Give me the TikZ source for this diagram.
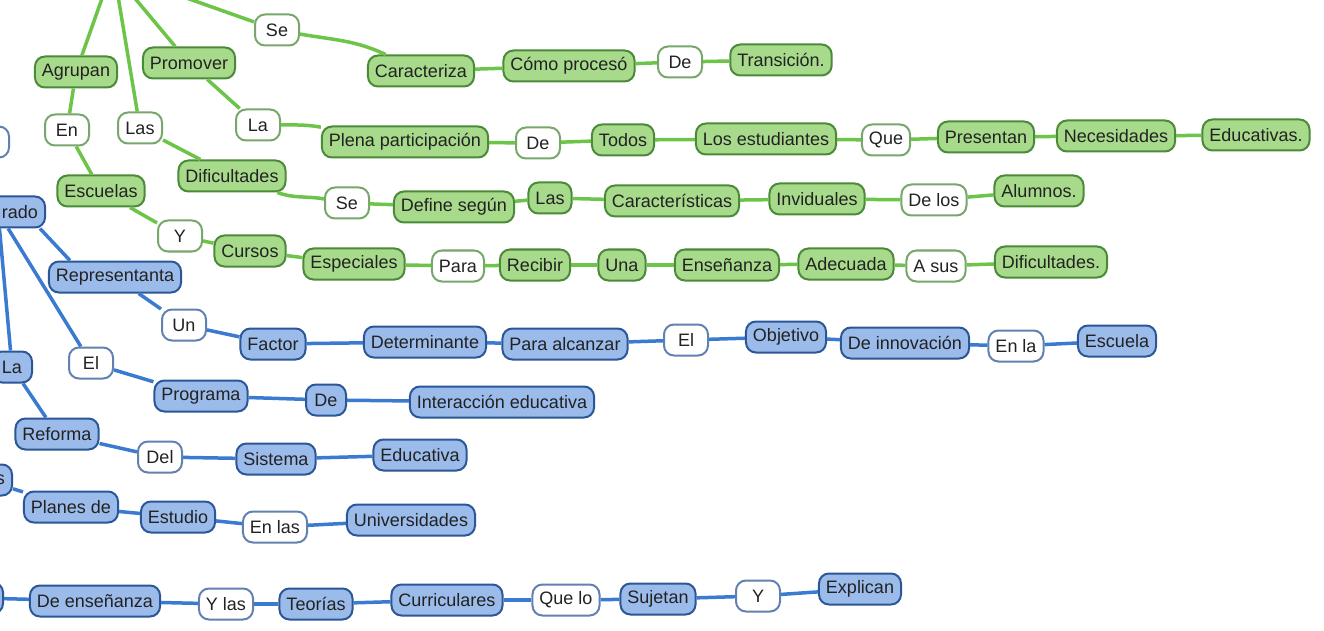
\documentclass[tikz,border=0pt]{standalone}
\usepackage{fontspec}
\setmainfont{Liberation Sans}
\usepackage{tikz}
\definecolor{gfill}{HTML}{A8DA8C}
\definecolor{gdraw}{HTML}{4A8A38}
\definecolor{gwire}{HTML}{6CC449}
\definecolor{bfill}{HTML}{9BBBEB}
\definecolor{bdraw}{HTML}{2C5796}
\definecolor{bwire}{HTML}{3A7AD0}
\definecolor{ink}{HTML}{222222}
\tikzstyle{box} = [rounded corners=5pt, minimum height=15.5pt, minimum width=20pt, inner xsep=3.5pt, inner ysep=2pt, line width=1pt, text=ink, font=\fontsize{9}{10}\selectfont]
\tikzstyle{gbox} = [box, draw=gdraw, fill=gfill]
\tikzstyle{gword} = [box, draw=gdraw!75, fill=white, minimum width=22pt]
\tikzstyle{bbox} = [box, draw=bdraw, fill=bfill]
\tikzstyle{bword} = [box, draw=bdraw!75, fill=white, minimum width=22pt]
\tikzstyle{cut} = [anchor=east, align=right]
\tikzstyle{gline} = [gwire, line width=1.75pt]
\tikzstyle{bline} = [bwire, line width=1.75pt]

\begin{document}
\begin{tikzpicture}[x=0.5pt, y=-0.5pt]
        \useasboundingbox [fill=white] (0,0) rectangle (1324,631);
        \clip (0,0) rectangle (1324,631);

        % green branch
        \coordinate (gtop1) at (105,-10);
        \coordinate (gtop2) at (117,-10);
        \coordinate (gtop3) at (128,-10);
        \coordinate (gtop4) at (178,-5);
        \node (agr) [gbox] at (76,72) {Agrupan};
        \node (en) [gword] at (67,130) {En};
        \node (las) [gword] at (140,128) {Las};
        \node (prom) [gbox] at (189,63) {Promover};
        \node (se) [gword] at (277,30) {Se};
        \node (la) [gword] at (258,125) {La};
        \node (esc) [gbox] at (101,191) {Escuelas};
        \node (dif) [gbox] at (232,176) {Dificultades};
        \node (y) [gword] at (180,236) {Y};
        \node (cur) [gbox] at (250,251) {Cursos};
        \node (car) [gbox] at (421,71) {Caracteriza};
        \node (como) [gbox] at (569,66) {Cómo procesó};
        \node (de) [gword] at (680,62) {De};
        \node (tra) [gbox] at (781,60) {Transición.};
        \node (ple) [gbox] at (405,142) {Plena participación};
        \node (de2) [gword] at (538,143) {De};
        \node (tod) [gbox] at (623,140) {Todos};
        \node (est) [gbox] at (766,139) {Los estudiantes};
        \node (que) [gword] at (886,140) {Que};
        \node (pre) [gbox] at (986,137) {Presentan};
        \node (nec) [gbox] at (1116,136) {Necesidades};
        \node (edu) [gbox] at (1256,135) {Educativas.};
        \node (se2) [gword] at (347,203) {Se};
        \node (def) [gbox] at (454,207) {Define según};
        \node (las2) [gbox] at (550,198) {Las};
        \node (cara) [gbox] at (672,201) {Características};
        \node (inv) [gbox] at (817,199) {Inviduales};
        \node (delos) [gword] at (934,200) {De los};
        \node (alu) [gbox] at (1039,191) {Alumnos.};
        \node (esp) [gbox] at (354,264) {Especiales};
        \node (para) [gword] at (458,266) {Para};
        \node (rec) [gbox] at (535,265) {Recibir};
        \node (una) [gbox] at (622,265) {Una};
        \node (ens) [gbox] at (727,265) {Enseñanza};
        \node (ade) [gbox] at (846,264) {Adecuada};
        \node (asus) [gword] at (936,266) {A sus};
        \node (dif2) [gbox] at (1051,262) {Dificultades.};

        \draw [gline] (gtop1) -- (agr);
        \draw [gline] (gtop2) -- (las);
        \draw [gline] (gtop3) -- (prom);
        \draw [gline] (gtop4) -- (se);
        \draw [gline] (agr) -- (en);
        \draw [gline] (en) -- (esc);
        \draw [gline] (esc) -- (y);
        \draw [gline] (y) -- (cur);
        \draw [gline] (cur) -- (esp);
        \draw [gline] (esp) -- (para);
        \draw [gline] (para) -- (rec);
        \draw [gline] (rec) -- (una);
        \draw [gline] (una) -- (ens);
        \draw [gline] (ens) -- (ade);
        \draw [gline] (ade) -- (asus);
        \draw [gline] (asus) -- (dif2);
        \draw [gline] (las) -- (dif);
        \draw [gline] (dif) to[out=-20,in=170] (se2);
        \draw [gline] (se2) -- (def);
        \draw [gline] (def) -- (las2);
        \draw [gline] (las2) -- (cara);
        \draw [gline] (cara) -- (inv);
        \draw [gline] (inv) -- (delos);
        \draw [gline] (delos) -- (alu);
        \draw [gline] (prom) -- (la);
        \draw [gline] (la) to[out=0,in=170] (ple);
        \draw [gline] (ple) -- (de2);
        \draw [gline] (de2) -- (tod);
        \draw [gline] (tod) -- (est);
        \draw [gline] (est) -- (que);
        \draw [gline] (que) -- (pre);
        \draw [gline] (pre) -- (nec);
        \draw [gline] (nec) -- (edu);
        \draw [gline] (se) to[out=-10,in=155] (car);
        \draw [gline] (car) -- (como);
        \draw [gline] (como) -- (de);
        \draw [gline] (de) -- (tra);

        % blue branch
        \node (rado) [bbox, cut, text width=40pt] at (46,212) {rado};
        \node (blank) [bword, cut, minimum width=25pt] at (10,142) {};
        \node (la3) [bbox] at (12,367) {La};
        \node (ref) [bbox] at (57,434) {Reforma};
        \node (s) [bbox, cut, text width=20pt] at (13,480) {s};
        \node (pla) [bbox] at (71,507) {Planes de};
        \node (low) [bbox, cut, minimum width=25pt] at (4,598) {};
        \node (den) [bbox] at (95,601) {De enseñanza};
        \node (rep) [bbox] at (115,277) {Representanta};
        \node (un) [bword] at (184,325) {Un};
        \node (fac) [bbox] at (273,344) {Factor};
        \node (det) [bbox] at (425,342) {Determinante};
        \node (pal) [bbox] at (565,344) {Para alcanzar};
        \node (el) [bword] at (686,340) {El};
        \node (obj) [bbox] at (786,337) {Objetivo};
        \node (dei) [bbox] at (905,343) {De innovación};
        \node (enla) [bword] at (1016,346) {En la};
        \node (escu) [bbox] at (1117,341) {Escuela};
        \node (el2) [bword] at (91,363) {El};
        \node (prog) [bbox] at (201,396) {Programa};
        \node (de3) [bbox] at (326,400) {De};
        \node (int) [bbox] at (502,402) {Interacción educativa};
        \node (del) [bword] at (160,457) {Del};
        \node (sis) [bbox] at (276,459) {Sistema};
        \node (edc) [bbox] at (420,455) {Educativa};
        \node (estu) [bbox] at (178,517) {Estudio};
        \node (enlas) [bword] at (275,527) {En las};
        \node (uni) [bbox] at (411,520) {Universidades};
        \node (ylas) [bword] at (226,604) {Y las};
        \node (teo) [bbox] at (316,604) {Teorías};
        \node (curr) [bbox] at (447,600) {Curriculares};
        \node (quelo) [bword] at (566,600) {Que lo};
        \node (suj) [bbox] at (658,599) {Sujetan};
        \node (y2) [bword] at (758,596) {Y};
        \node (exp) [bbox] at (860,589) {Explican};

        \draw [bline] ([xshift=-3pt]rado.south east) -- ([xshift=11pt]rep.north west);
        \draw [bline] (rado) -- (el2);
        \draw [bline] (rado) -- (la3);
        \draw [bline] (la3) -- (ref);
        \draw [bline] (ref) -- (del);
        \draw [bline] (del) -- (sis);
        \draw [bline] (sis) -- (edc);
        \draw [bline] (rep) -- (un);
        \draw [bline] (un) -- (fac);
        \draw [bline] (fac) -- (det);
        \draw [bline] (det) -- (pal);
        \draw [bline] (pal) -- (el);
        \draw [bline] (el) -- (obj);
        \draw [bline] (obj) -- (dei);
        \draw [bline] (dei) -- (enla);
        \draw [bline] (enla) -- (escu);
        \draw [bline] (el2) -- (prog);
        \draw [bline] (prog) -- (de3);
        \draw [bline] (de3) -- (int);
        \draw [bline] (s) -- (pla);
        \draw [bline] (pla) -- (estu);
        \draw [bline] (estu) -- (enlas);
        \draw [bline] (enlas) -- (uni);
        \draw [bline] (low) -- (den);
        \draw [bline] (den) -- (ylas);
        \draw [bline] (ylas) -- (teo);
        \draw [bline] (teo) -- (curr);
        \draw [bline] (curr) -- (quelo);
        \draw [bline] (quelo) -- (suj);
        \draw [bline] (suj) -- (y2);
        \draw [bline] (y2) -- (exp);
    \end{tikzpicture}
\end{document}
